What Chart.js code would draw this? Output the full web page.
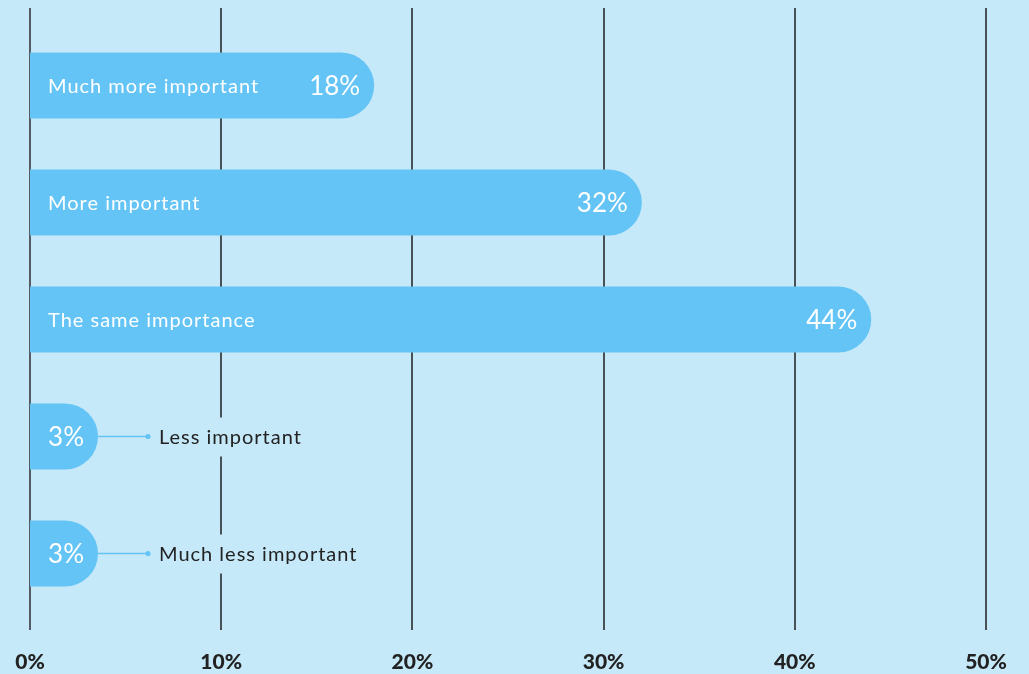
<!DOCTYPE html>
<html lang="en">
<head>
  <meta charset="UTF-8">
  <title>Importance</title>
  <script src="https://cdn.jsdelivr.net/npm/chart.js"></script>
  <style>
    html, body { margin: 0; padding: 0; background: #c6e9f9; }
    canvas { display: block; }
  </style>
</head>
<body>
  <canvas id="grafico" width="1029" height="674"></canvas>

  <script>
    const categories = ['Much more important', 'More important', 'The same importance', 'Less important', 'Much less important'];
    const shares = [18, 32, 44, 3, 3];
    const xTicks = [0, 10, 20, 30, 40, 50];

    const bg = '#c6e9f9';
    const barColor = '#64c4f5';
    const textFont = '"Lato", "Open Sans", sans-serif';

    // vertical grid lines, a bit taller than the bar area
    const gridLines = {
      id: 'gridLines',
      beforeDatasetsDraw(chart) {
        const ctx = chart.ctx;
        const x = chart.scales.x;
        const area = chart.chartArea;
        ctx.save();
        xTicks.forEach(v => {
          const px = Math.round(x.getPixelForValue(v));
          ctx.beginPath();
          ctx.strokeStyle = v === 0 ? '#555b64' : '#1e1e1e';
          ctx.lineWidth = v === 0 ? 2 : 1.5;
          ctx.moveTo(px, area.top - 19);
          ctx.lineTo(px, area.bottom + 18);
          ctx.stroke();
        });
        ctx.restore();
      }
    };

    const barLabels = {
      id: 'barLabels',
      afterDatasetsDraw(chart) {
        const ctx = chart.ctx;
        const meta = chart.getDatasetMeta(0);
        ctx.save();
        meta.data.forEach((bar, i) => {
          const end = bar.x;
          const y = bar.y;
          // value
          ctx.letterSpacing = '0px';
          ctx.fillStyle = '#ffffff';
          ctx.font = '26px ' + textFont;
          ctx.textAlign = 'right';
          ctx.textBaseline = 'middle';
          ctx.fillText(shares[i] + '%', end - 14, y + 1);

          ctx.letterSpacing = '1px';
          if (shares[i] >= 10) {
            ctx.font = '20px ' + textFont;
            ctx.textAlign = 'left';
            ctx.fillText(categories[i], bar.base + 18, y + 1);
          } else {
            // connector + label outside
            ctx.strokeStyle = barColor;
            ctx.lineWidth = 1.5;
            ctx.beginPath();
            ctx.moveTo(end, y);
            ctx.lineTo(end + 50, y);
            ctx.stroke();
            ctx.fillStyle = barColor;
            ctx.beginPath();
            ctx.arc(end + 50, y, 2.6, 0, Math.PI * 2);
            ctx.fill();

            ctx.font = '20px ' + textFont;
            const w = ctx.measureText(categories[i]).width;
            ctx.fillStyle = bg;
            ctx.fillRect(end + 57, y - 19, w + 8, 39);
            ctx.fillStyle = '#222222';
            ctx.textAlign = 'left';
            ctx.fillText(categories[i], end + 61, y + 1);
          }
        });
        ctx.restore();
      }
    };

    new Chart(document.getElementById('grafico'), {
      type: 'bar',
      data: {
        labels: categories,
        datasets: [{
          data: shares,
          backgroundColor: barColor,
          borderWidth: 0,
          borderRadius: 33,
          borderSkipped: 'start',
          minBarLength: 68,
          categoryPercentage: 1,
          barPercentage: 0.564
        }]
      },
      options: {
        indexAxis: 'y',
        responsive: false,
        animation: false,
        layout: { padding: { left: 30, right: 43, top: 27, bottom: 0 } },
        plugins: {
          legend: { display: false },
          tooltip: { enabled: false }
        },
        scales: {
          y: { display: false },
          x: {
            min: 0,
            max: 50,
            grid: { display: false, drawTicks: false, tickLength: 0 },
            border: { display: false },
            afterBuildTicks(scale) {
              scale.ticks = xTicks.map(v => ({ value: v }));
            },
            afterFit(scale) {
              scale.height = 62;
              scale.paddingLeft = 0;
              scale.paddingRight = 0;
            },
            ticks: {
              padding: 38,
              maxRotation: 0,
              minRotation: 0,
              autoSkip: false,
              color: '#222222',
              font: { family: textFont, size: 21, weight: '900' },
              callback: v => v + '%'
            }
          }
        }
      },
      plugins: [gridLines, barLabels]
    });
  </script>
</body>
</html>
